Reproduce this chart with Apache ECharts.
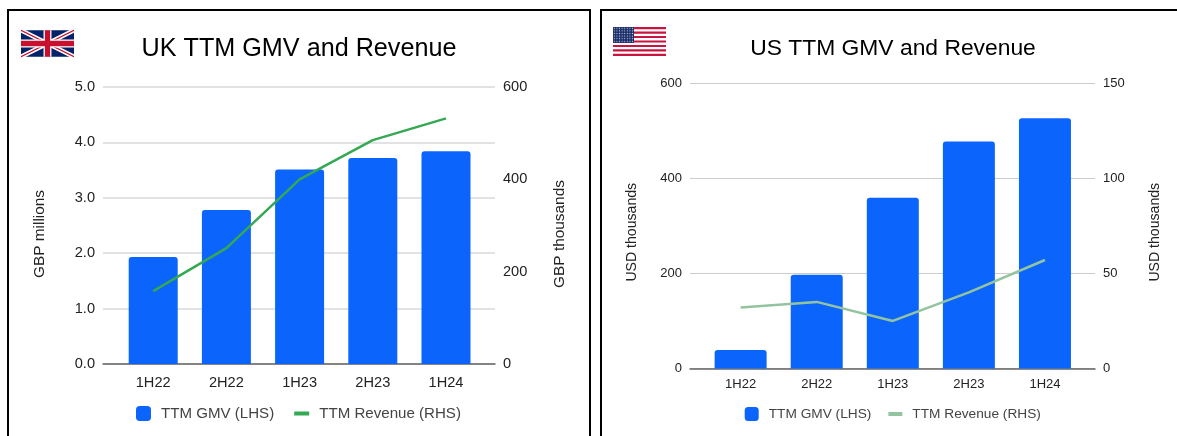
<!DOCTYPE html>
<html>
<head>
<meta charset="utf-8">
<script src="https://cdn.jsdelivr.net/npm/echarts@6/dist/echarts.min.js"></script>
<style>
    html, body { margin: 0; padding: 0; background: #fff; overflow: hidden; }
    body { position: relative; width: 1177px; height: 436px; }
    .frame { position: absolute; box-sizing: border-box; border: 2px solid #000; }
    #ukFrame { left: 7px; top: 9px; width: 584px; height: 440px; }
    #usFrame { left: 600px; top: 9px; width: 600px; height: 440px; }
    .chart { position: absolute; top: 0; height: 436px; }
    #ukChart { left: 0; width: 595px; }
    #usChart { left: 595px; width: 582px; }
    svg.flag { position: absolute; }
</style>
</head>
<body>
<div class="frame" id="ukFrame"></div>
<div class="frame" id="usFrame"></div>
<div class="chart" id="ukChart"></div>
<div class="chart" id="usChart"></div>

<svg class="flag" style="left:21px;top:29px" width="53" height="29" viewBox="0 0 60 30">
    <rect width="60" height="30" fill="#012169"/>
    <path d="M0,0 L60,30 M60,0 L0,30" stroke="#fff" stroke-width="5"/>
    <path d="M0,0 L60,30 M60,0 L0,30" stroke="#c8102e" stroke-width="1.5"/>
    <path d="M30,0 V30 M0,15 H60" stroke="#fff" stroke-width="9"/>
    <path d="M30,0 V30 M0,15 H60" stroke="#c8102e" stroke-width="6"/>
</svg>
<svg class="flag" style="left:613px;top:27px" width="53" height="29" viewBox="0 0 53 29">
    <defs>
        <pattern id="stars" width="2.6" height="2.6" patternUnits="userSpaceOnUse">
            <rect width="2.6" height="2.6" fill="#1c2f6b"/>
            <circle cx="1.3" cy="1.3" r="0.6" fill="#c9cfe0"/>
        </pattern>
    </defs>
    <rect width="53" height="29" fill="#fff"/>
    <path d="M0,1.1 H53 M0,5.6 H53 M0,10 H53 M0,14.5 H53 M0,19 H53 M0,23.4 H53 M0,27.9 H53" stroke="#c8143f" stroke-width="2.2"/>
    <rect width="21" height="16" fill="url(#stars)"/>
</svg>

<script>
var categories = ["1H22", "2H22", "1H23", "2H23", "1H24"];

var ukGmv = [1.93, 2.78, 3.51, 3.72, 3.84];
var ukRevenue = [158, 251, 400, 485, 532];
var ukLeftTicks = { min: 0, max: 5, interval: 1 };
var ukRightTicks = { min: 0, max: 600, interval: 200 };

var usGmv = [39, 197, 359, 477, 526];
var usRevenue = [32, 35, 25, 40, 57];
var usLeftTicks = { min: 0, max: 600, interval: 200 };
var usRightTicks = { min: 0, max: 150, interval: 50 };

var FONT = "Liberation Sans";

function renderPanel(id, cfg) {
    var chart = echarts.init(document.getElementById(id));

    function scaleAxis(ticks, position, name, digits, nameGap) {
        return {
            type: "value",
            gridIndex: 0,
            position: position,
            min: ticks.min,
            max: ticks.max,
            interval: ticks.interval,
            name: name,
            nameLocation: "middle",
            nameRotate: 90,
            nameGap: nameGap,
            nameTextStyle: {
                fontFamily: FONT,
                fontSize: cfg.nameSize,
                color: "#222",
                padding: [0, cfg.namePad, 0, 0]
            },
            axisLine: { show: false },
            axisTick: { show: false },
            axisLabel: {
                fontFamily: FONT,
                fontSize: cfg.tickSize,
                color: "#222",
                margin: 8,
                padding: [2, 0, 0, 0],
                formatter: function (v) { return v.toFixed(digits); }
            },
            splitLine: {
                show: position === "left",
                lineStyle: { color: cfg.gridColor, width: cfg.gridWidth }
            }
        };
    }

    // the data axes sit on a narrower grid, gridlines overhang the first and last band
    function dataAxis(ticks) {
        return {
            type: "value",
            gridIndex: 1,
            min: ticks.min,
            max: ticks.max,
            interval: ticks.interval,
            show: false
        };
    }

    chart.setOption({
        animation: false,
        title: {
            text: cfg.title,
            left: cfg.titleCenter,
            top: cfg.titleTop,
            textAlign: "center",
            textStyle: { fontFamily: FONT, fontSize: cfg.titleSize, fontWeight: "normal", color: "#000" }
        },
        legend: {
            left: cfg.legendLeft,
            top: cfg.legendTop,
            padding: 0,
            itemWidth: cfg.legendSwatch,
            itemHeight: cfg.legendSwatch,
            itemGap: cfg.legendGap,
            textStyle: {
                fontFamily: FONT,
                fontSize: cfg.legendSize,
                color: "#444",
                padding: [0, 0, 0, 5]
            },
            data: [
                { name: "TTM GMV (LHS)", icon: "roundRect" },
                { name: "TTM Revenue (RHS)", itemStyle: { opacity: 0 }, lineStyle: { width: 4 } }
            ]
        },
        grid: [
            { left: cfg.outer[0], width: cfg.outer[1] - cfg.outer[0], top: cfg.top, height: cfg.height },
            { left: cfg.inner[0], width: cfg.inner[1] - cfg.inner[0], top: cfg.top, height: cfg.height }
        ],
        xAxis: [
            {
                type: "category",
                gridIndex: 0,
                data: categories,
                axisLine: { lineStyle: { color: "#666", width: 1.5 } },
                axisTick: { show: false },
                axisLabel: { show: false }
            },
            {
                type: "category",
                gridIndex: 1,
                data: categories,
                axisLine: { show: false },
                axisTick: { show: false },
                axisLabel: {
                    fontFamily: FONT,
                    fontSize: cfg.tickSize,
                    color: "#222",
                    margin: cfg.catMargin
                }
            }
        ],
        yAxis: [
            scaleAxis(cfg.leftTicks, "left", cfg.leftName, cfg.leftDigits, cfg.nameGaps[0]),
            scaleAxis(cfg.rightTicks, "right", cfg.rightName, 0, cfg.nameGaps[1]),
            dataAxis(cfg.leftTicks),
            dataAxis(cfg.rightTicks)
        ],
        series: [
            {
                name: "TTM GMV (LHS)",
                type: "bar",
                xAxisIndex: 1,
                yAxisIndex: 2,
                data: cfg.gmv,
                barWidth: cfg.barWidth,
                itemStyle: { color: "#0b65fc", borderRadius: [3, 3, 0, 0] }
            },
            {
                name: "TTM Revenue (RHS)",
                type: "line",
                xAxisIndex: 1,
                yAxisIndex: 3,
                data: cfg.revenue,
                symbol: "none",
                z: 5,
                lineStyle: { color: cfg.lineColor, width: 2.5 },
                itemStyle: { color: cfg.lineColor }
            }
        ]
    });
}

renderPanel("ukChart", {
    title: "UK TTM GMV and Revenue",
    titleCenter: 294,
    titleTop: 32,
    titleSize: 25.2,
    outer: [103, 495],
    inner: [116.6, 482.6],
    top: 87,
    height: 277,
    tickSize: 14.6,
    nameSize: 15.4,
    nameGaps: [56, 57],
    namePad: 17,
    catMargin: 11,
    barWidth: 49,
    gridColor: "#d9d9d9",
    gridWidth: 1.5,
    leftTicks: ukLeftTicks,
    rightTicks: ukRightTicks,
    leftDigits: 1,
    leftName: "GBP millions",
    rightName: "GBP thousands",
    gmv: ukGmv,
    revenue: ukRevenue,
    lineColor: "#34a853",
    legendLeft: 136,
    legendTop: 406,
    legendGap: 18,
    legendSwatch: 15,
    legendSize: 15.1
});

renderPanel("usChart", {
    title: "US TTM GMV and Revenue",
    titleCenter: 293,
    titleTop: 32,
    titleSize: 22.85,
    outer: [95, 500],
    inner: [107.6, 488],
    top: 83,
    height: 285.5,
    tickSize: 13,
    nameSize: 14.1,
    nameGaps: [51, 53],
    namePad: 13,
    catMargin: 9,
    barWidth: 52,
    gridColor: "#cccccc",
    gridWidth: 1,
    leftTicks: usLeftTicks,
    rightTicks: usRightTicks,
    leftDigits: 0,
    leftName: "USD thousands",
    rightName: "USD thousands",
    gmv: usGmv,
    revenue: usRevenue,
    lineColor: "#93c49f",
    legendLeft: 149.7,
    legendTop: 407,
    legendGap: 15,
    legendSwatch: 14,
    legendSize: 13.7
});
</script>
</body>
</html>
